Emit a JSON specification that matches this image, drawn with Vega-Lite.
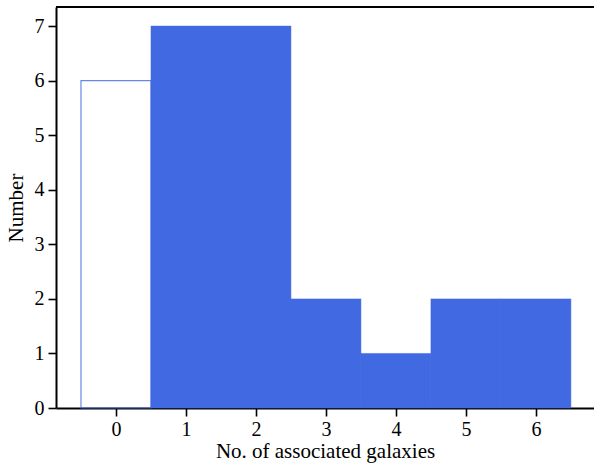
{
  "$schema": "https://vega.github.io/schema/vega-lite/v6.json",
  "width": 538,
  "height": 401,
  "autosize": {"type": "none"},
  "padding": {"left": 56, "top": 7, "right": 0, "bottom": 58},
  "background": "white",
  "config": {
    "view": {"stroke": null},
    "font": "Liberation Serif",
    "axis": {
      "labelFont": "Liberation Serif",
      "titleFont": "Liberation Serif",
      "labelFontSize": 20,
      "titleFontSize": 21,
      "titleFontWeight": "normal",
      "labelColor": "black",
      "titleColor": "black",
      "domainColor": "black",
      "tickColor": "black",
      "domainWidth": 2,
      "tickWidth": 1.6,
      "tickSize": 8,
      "grid": false
    }
  },
  "data": {
    "values": [
      {"start": -0.5, "end": 0.5, "count": 6, "kind": "outline"},
      {"start": 0.5, "end": 1.5, "count": 7, "kind": "filled"},
      {"start": 1.5, "end": 2.5, "count": 7, "kind": "filled"},
      {"start": 2.5, "end": 3.5, "count": 2, "kind": "filled"},
      {"start": 3.5, "end": 4.5, "count": 1, "kind": "filled"},
      {"start": 4.5, "end": 5.5, "count": 2, "kind": "filled"},
      {"start": 5.5, "end": 6.5, "count": 2, "kind": "filled"}
    ]
  },
  "layer": [
    {
      "transform": [{"filter": "datum.kind == 'filled'"}],
      "mark": {"type": "rect", "fill": "#4169E1", "stroke": "#4169E1", "strokeWidth": 0.5},
      "encoding": {
        "x": {"field": "start", "type": "quantitative",
              "scale": {"domain": [-0.857, 6.83], "nice": false, "zero": false},
              "axis": {"values": [0, 1, 2, 3, 4, 5, 6], "format": "d", "title": "No. of associated galaxies", "labelPadding": 3, "titlePadding": 1}},
        "x2": {"field": "end"},
        "y": {"field": "count", "type": "quantitative",
              "scale": {"domain": [0, 7.35], "nice": false},
              "axis": {"values": [0, 1, 2, 3, 4, 5, 6, 7], "format": "d", "title": "Number", "labelPadding": 4, "titlePadding": 8}},
        "y2": {"datum": 0}
      }
    },
    {
      "transform": [{"filter": "datum.kind == 'outline'"}],
      "mark": {"type": "rect", "fill": null, "stroke": "#4169E1", "strokeWidth": 1.2, "strokeOpacity": 0.8},
      "encoding": {
        "x": {"field": "start", "type": "quantitative"},
        "x2": {"field": "end"},
        "y": {"field": "count", "type": "quantitative"},
        "y2": {"datum": 0}
      }
    },
    {
      "mark": {"type": "rule", "color": "black", "strokeWidth": 2},
      "encoding": {"y": {"datum": 7.35}}
    }
  ]
}
